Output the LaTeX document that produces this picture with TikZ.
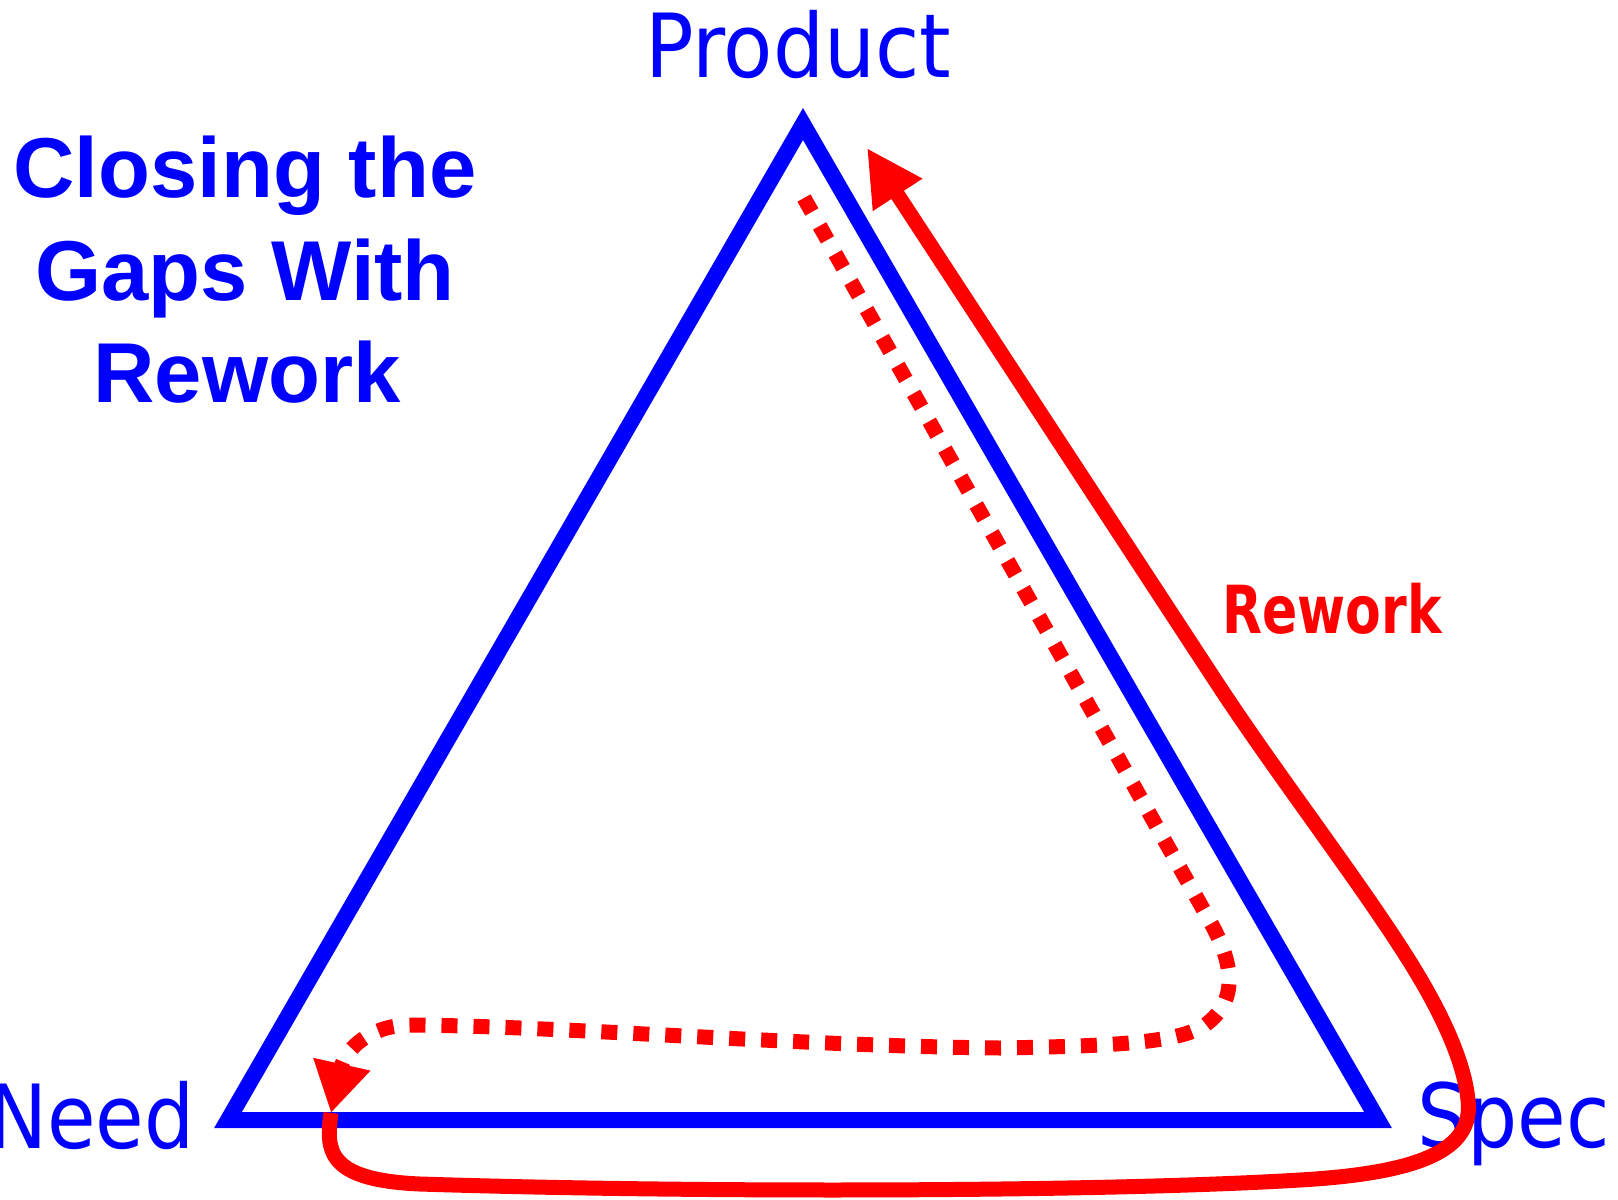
\documentclass[tikz,border=0pt]{standalone}
\usepackage{fontspec}
\setmainfont{DejaVu Sans}
\newfontfamily\titlefont{Liberation Sans}
\usepackage{graphicx}
\usetikzlibrary{arrows.meta}
\definecolor{pblue}{RGB}{0,0,255}
\definecolor{pred}{RGB}{255,0,0}
\begin{document}
\begin{tikzpicture}[x=0.5pt,y=-0.5pt,
  tri/.style={draw=pblue, line width=8pt, line join=miter, miter limit=10},
  reworkline/.style={draw=pred, line width=7.5pt},
  dotline/.style={draw=pred, line width=7.5pt, dash pattern=on 8pt off 8pt},
  lbl/.style={text=pblue, inner sep=0pt, font=\fontsize{39.5}{47}\selectfont},
  ttl/.style={text=pblue, inner sep=0pt, font=\titlefont\bfseries\fontsize{42.5}{51}\selectfont},
  rlbl/.style={text=pred, inner sep=0pt, font=\bfseries\fontsize{25.5}{30}\selectfont}]
\useasboundingbox (0,0) rectangle (1618,1200);

% labels
\node[lbl, anchor=base west] (product) at (645,77) {\scalebox{1.02}[1.12]{Product}};
\node[lbl, anchor=base east] (need) at (195,1148) {\scalebox{1}[1.12]{Need}};
\node[lbl, anchor=base west] (spec) at (1417,1147) {\scalebox{1}[1.12]{Spec}};
\node[rlbl, anchor=base west] (rwlabel) at (1222,633) {\scalebox{1.02}[1.3]{Rework}};

\node[ttl, anchor=base] (title1) at (245,197) {Closing the};
\node[ttl, anchor=base] (title2) at (245,300) {Gaps With};
\node[ttl, anchor=base] (title3) at (247,402) {Rework};

% triangle
\coordinate (vneed) at (228,1120);
\coordinate (vprod) at (803,124);
\coordinate (vspec) at (1378,1120);
\draw[tri] (vneed) -- (vprod) -- (vspec) -- cycle;

% dotted path (gap closing)
\coordinate (dstart) at (804,198);
\coordinate (dbend) at (1212,925);
\coordinate (dend) at (331,1113);
\draw[dotline, -{Triangle[length=25pt,width=27.5pt]}] (dstart) -- (dbend)
  .. controls (1232,962) and (1240,1000) .. (1205,1025)
  .. controls (1180,1042) and (1120,1046) .. (1000,1048)
  .. controls (800,1046) and (560,1026) .. (410,1025)
  .. controls (370,1025) and (345,1050) .. (dend);

% rework loop
\coordinate (rstart) at (331,1113);
\coordinate (rend) at (867,148);
\draw[reworkline, -{Triangle[length=28pt,width=27.5pt]}] (rstart)
  .. controls (326,1150) and (326,1180) .. (420,1184)
  .. controls (700,1193) and (1100,1192) .. (1300,1180)
  .. controls (1420,1173) and (1474,1150) .. (1468,1100)
  .. controls (1464,1060) and (1440,1010) .. (1410,962)
  .. controls (1360,882) and (1275,772) .. (1215,680)
  -- (rend);
\end{tikzpicture}
\end{document}
